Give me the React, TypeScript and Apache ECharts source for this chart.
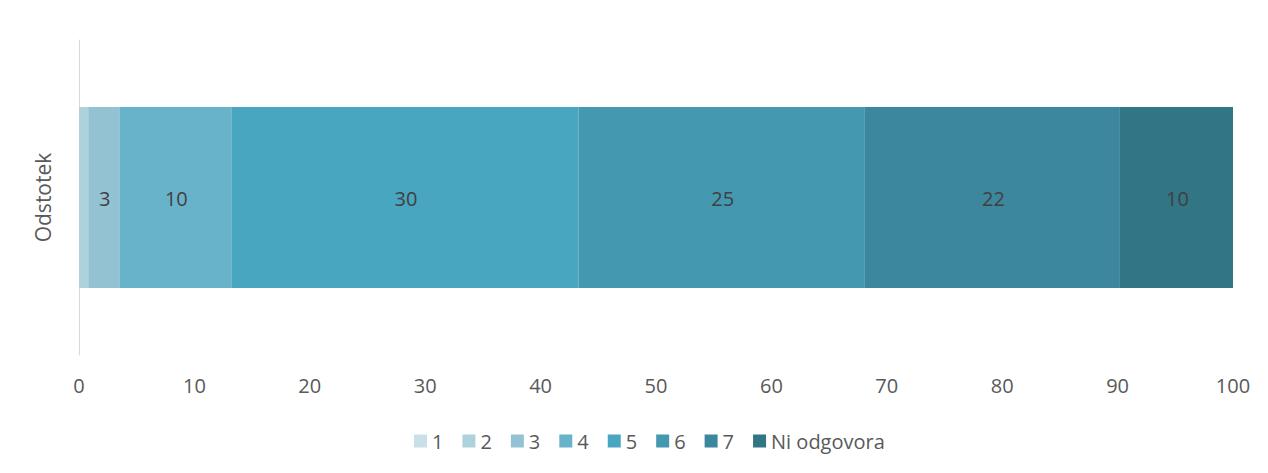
import React, { useEffect, useRef } from "react";
import * as echarts from "echarts";

const categories = ["Odstotek"];
const seriesNames = ["1", "2", "3", "4", "5", "6", "7", "Ni odgovora"];
const values = [0, 0.8, 2.7, 9.7, 30.1, 24.8, 22.1, 9.8];
const colors = ["#c8e0e6", "#aed2dc", "#93c2d3", "#68b3ca", "#48a6c0", "#4498b0", "#3c879d", "#327585"];
const xTicks = [0, 10, 20, 30, 40, 50, 60, 70, 80, 90, 100];

export default function App() {
  const ref = useRef<HTMLDivElement>(null);
  useEffect(() => {
    document.body.style.margin = "0";
    const chart = echarts.init(ref.current!, null, { renderer: "svg" });
    const font = "'Open Sans', sans-serif";
    chart.setOption({
      animation: false,
      textStyle: { fontFamily: font },
      grid: { left: 79, right: 35, top: 40, bottom: 118, containLabel: false },
      legend: {
        top: 426,
        left: 409,
        itemWidth: 13,
        itemHeight: 13,
        itemGap: 19,
        icon: "rect",
        textStyle: { color: "#595959", fontSize: 20, fontFamily: font },
        data: seriesNames,
      },
      xAxis: {
        type: "value",
        min: xTicks[0],
        max: xTicks[xTicks.length - 1],
        interval: 10,
        axisLine: { show: false },
        axisTick: { show: false },
        splitLine: { show: false },
        axisLabel: { color: "#595959", fontSize: 20, margin: 20, fontFamily: font },
      },
      yAxis: {
        type: "category",
        data: categories,
        axisLine: { show: true, lineStyle: { color: "#d9d9d9", width: 1 } },
        axisTick: { show: false },
        axisLabel: { rotate: 90, color: "#595959", fontSize: 21, margin: 26, fontFamily: font },
      },
      series: seriesNames.map((name, i) => ({
        name,
        type: "bar",
        stack: "total",
        barWidth: "57.5%",
        data: [values[i]],
        itemStyle: { color: colors[i] },
        label: {
          show: values[i] >= 1,
          position: "inside",
          color: "#404040",
          fontSize: 20,
          fontFamily: font,
          offset: [1, 1],
          formatter: (p: any) => String(Math.round(p.value)),
        },
      })),
    });
    return () => chart.dispose();
  }, []);
  return <div ref={ref} style={{ width: 1268, height: 473 }} />;
}
